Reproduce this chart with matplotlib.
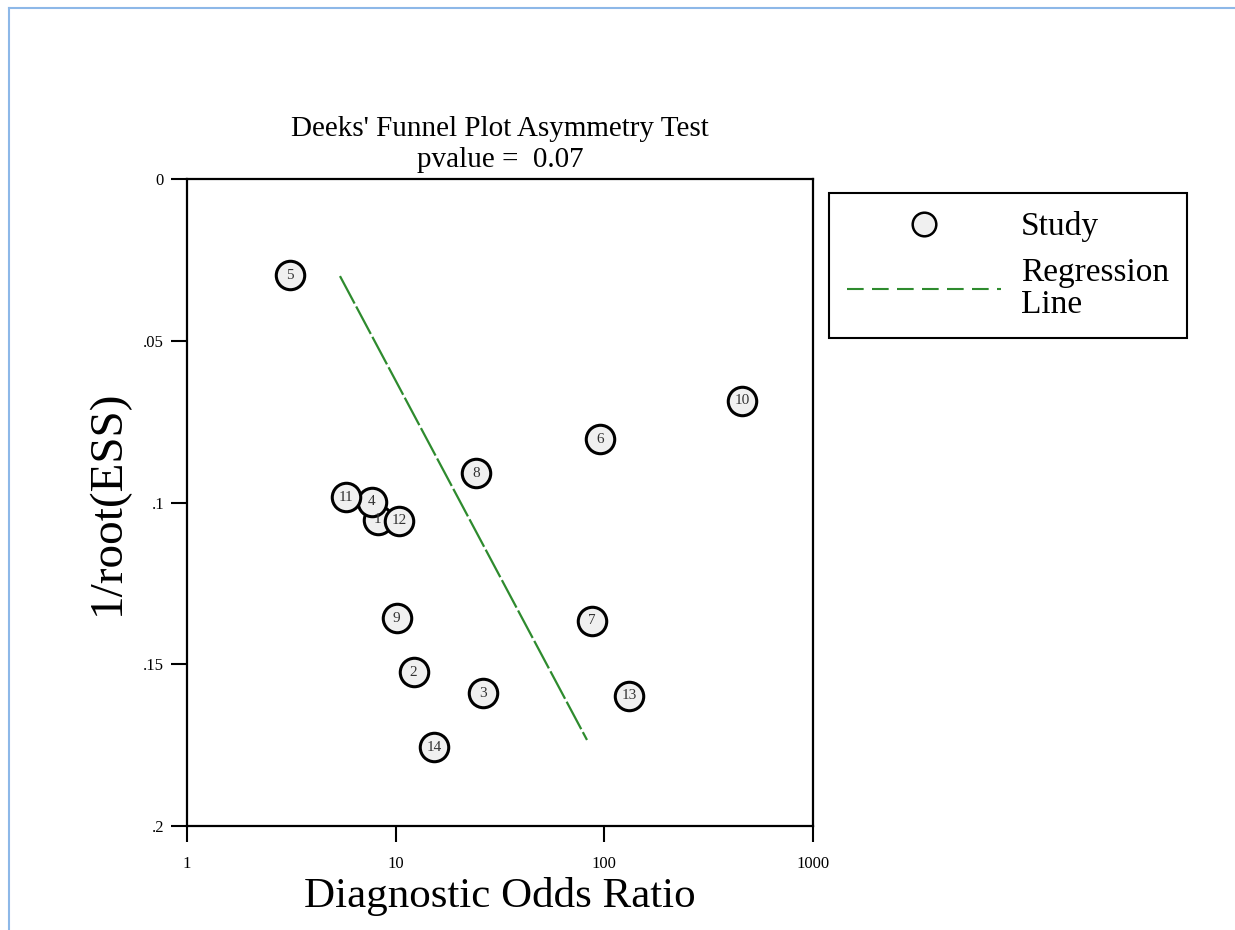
import numpy as np
import matplotlib.pyplot as plt
from matplotlib.lines import Line2D

plt.rcParams['font.family'] = ['Liberation Serif', 'DejaVu Serif']

# study data
study_ids = [1, 2, 3, 4, 5, 6, 7, 8, 9, 10, 11, 12, 13, 14]
dor = [8.2, 12.2, 26.2, 7.7, 3.12, 95.3, 87.2, 24.2, 10.1, 456, 5.78, 10.4, 131, 15.3]
inv_ess = [0.1054, 0.1524, 0.1589, 0.0998, 0.0297, 0.0804, 0.1366, 0.0909,
           0.1357, 0.0686, 0.0983, 0.1057, 0.1598, 0.1756]

# regression line end points
reg_x = [5.41, 82.6]
reg_y = [0.030, 0.1734]

xticks = [1, 10, 100, 1000]
xtick_labels = ['1', '10', '100', '1000']
yticks = [0, 0.05, 0.1, 0.15, 0.2]
ytick_labels = ['0', '.05', '.1', '.15', '.2']

fig = plt.figure(figsize=(12.35, 9.3), dpi=100)
ax = fig.add_axes([0.1514, 0.1118, 0.5069, 0.6957])

ax.plot(reg_x, reg_y, color='#2e8b2e', lw=1.6, dashes=(14, 1.5), zorder=2)
ax.scatter(dor, inv_ess, s=420, facecolor='#f0f0f0', edgecolor='black',
           linewidth=2.2, zorder=3)
for i, x, y in zip(study_ids, dor, inv_ess):
    ax.text(x, y, str(i), ha='center', va='center', fontsize=11,
            color='#333333', zorder=4)

ax.set_xscale('log')
ax.set_xlim(1, 1000)
ax.set_ylim(0.2, 0)
ax.set_xticks(xticks)
ax.set_xticklabels(xtick_labels)
ax.minorticks_off()
ax.set_yticks(yticks)
ax.set_yticklabels(ytick_labels)
ax.tick_params(axis='both', direction='out', length=11.5, width=1.5,
               labelsize=12)
ax.tick_params(axis='x', pad=10)
ax.tick_params(axis='y', pad=5)
for s in ax.spines.values():
    s.set_linewidth(1.6)

ax.set_xlabel('Diagnostic Odds Ratio', fontsize=31, labelpad=4)
ax.set_ylabel('1/root(ESS)', fontsize=34, labelpad=10)
ax.set_title("Deeks' Funnel Plot Asymmetry Test\npvalue =  0.07",
             fontsize=21, pad=9, linespacing=1.25)

handles = [
    Line2D([], [], ls='none', marker='o', markersize=17, markerfacecolor='#f0f0f0',
           markeredgecolor='black', markeredgewidth=1.8),
    Line2D([], [], color='#2e8b2e', lw=1.5, dashes=(8, 4)),
]
leg = ax.legend(handles, ['Study', 'Regression\nLine'], loc='upper left',
                bbox_to_anchor=(829 / 1235, 1 - 193 / 930),
                bbox_transform=fig.transFigure, fontsize=24, fancybox=False,
                edgecolor='black', framealpha=1, handlelength=4.6,
                handletextpad=0.6, borderpad=0.55, labelspacing=0.45,
                borderaxespad=0)
leg.get_frame().set_linewidth(1.5)
leg.get_texts()[1].set_linespacing(1.05)

# blue screenshot border, top and left
fig.add_artist(Line2D([9 / 1235, 1], [1 - 8 / 930, 1 - 8 / 930],
                      transform=fig.transFigure, color='#8db8e8', lw=1.5))
fig.add_artist(Line2D([9 / 1235, 9 / 1235], [0, 1 - 8 / 930],
                      transform=fig.transFigure, color='#8db8e8', lw=1.5))

fig.savefig('out.png', dpi=100)
